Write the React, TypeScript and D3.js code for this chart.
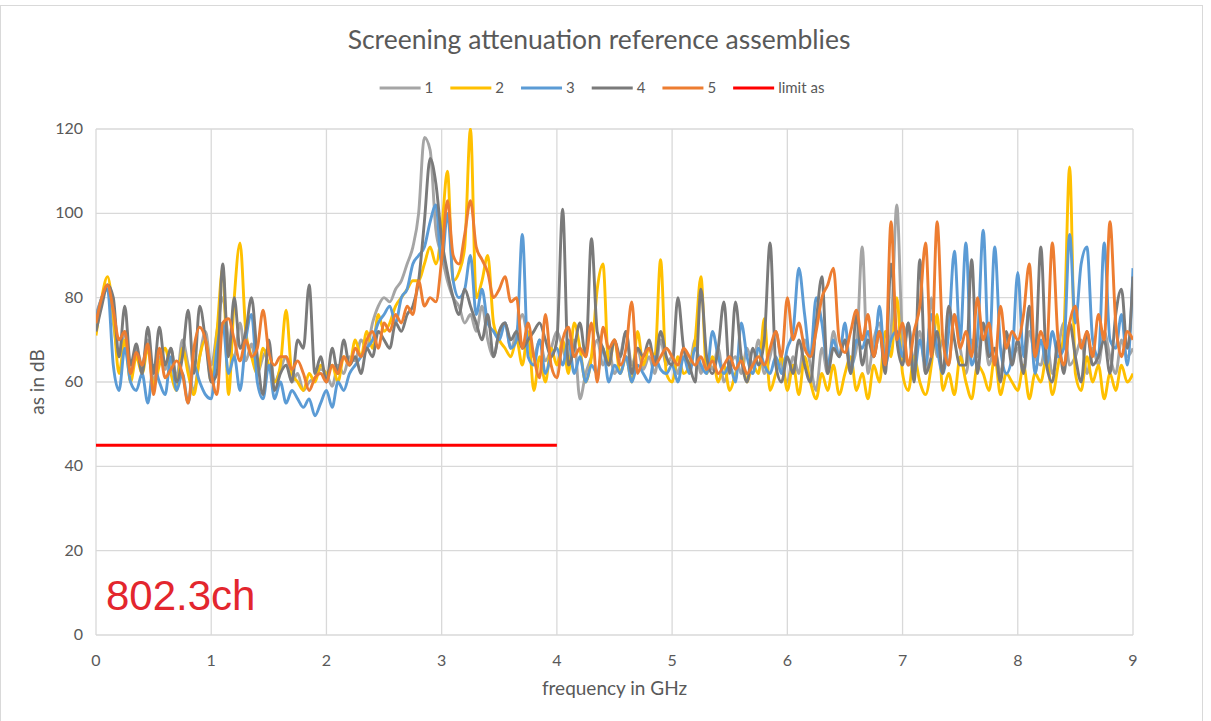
import React, { useEffect, useRef } from 'react';
import * as d3 from 'd3';

// frequency sampling of the measured traces (GHz)
const freqStep = 0.05;

// series 1 .. 5, one row per GHz (20 points), last value at 9 GHz
const series1 = [
  76, 80, 83, 74, 66, 72, 62, 68, 64, 70, 60, 66, 63, 68, 61, 70, 64, 58, 66, 72,
  64, 72, 80, 70, 66, 74, 65, 69, 62, 66, 68, 60, 63, 66, 60, 62, 58, 60, 61, 63,
  62, 59, 64, 62, 66, 65, 70, 68, 74, 78, 80, 79, 82, 84, 88, 92, 100, 118, 115, 96,
  90, 84, 80, 78, 74, 76, 72, 78, 70, 66, 72, 74, 68, 72, 76, 70, 66, 70, 65, 68,
  72, 68, 64, 70, 56, 62, 66, 70, 64, 68, 62, 66, 72, 64, 68, 63, 66, 62, 70, 64,
  66, 62, 68, 64, 70, 62, 66, 63, 68, 60, 64, 66, 62, 68, 64, 70, 62, 66, 72, 64,
  60, 66, 62, 70, 64, 58, 68, 62, 72, 66, 70, 64, 68, 92, 62, 70, 74, 66, 72, 102,
  70, 64, 66, 72, 62, 80, 66, 70, 64, 76, 68, 62, 70, 66, 74, 64, 68, 62, 70, 66,
  68, 62, 72, 66, 64, 70, 62, 68, 74, 64, 66, 70, 62, 68, 64, 72, 66, 62, 70, 66,
  68,
];
const series2 = [
  71, 80, 85, 76, 62, 70, 60, 66, 62, 68, 59, 64, 68, 62, 58, 68, 62, 57, 66, 70,
  60, 72, 87, 57, 80, 93, 72, 66, 62, 68, 64, 60, 64, 77, 62, 60, 58, 62, 60, 64,
  62, 64, 60, 66, 64, 70, 66, 72, 68, 76, 72, 74, 78, 80, 82, 84, 84, 88, 92, 88,
  96, 110, 84, 86, 92, 120, 80, 84, 90, 74, 70, 68, 66, 70, 64, 72, 58, 66, 60, 68,
  64, 70, 62, 74, 68, 60, 66, 82, 88, 64, 70, 62, 66, 60, 72, 64, 68, 66, 89, 62,
  60, 66, 62, 64, 70, 85, 62, 66, 60, 64, 58, 62, 66, 60, 64, 62, 75, 58, 62, 66,
  58, 64, 57, 66, 60, 56, 62, 58, 64, 57, 62, 66, 58, 62, 56, 64, 60, 72, 66, 80,
  62, 58, 66, 60, 57, 64, 76, 58, 62, 57, 66, 60, 56, 64, 62, 58, 66, 57, 62, 60,
  58, 64, 56, 62, 60, 66, 57, 64, 72, 111, 62, 58, 66, 60, 64, 56, 62, 58, 64, 60,
  62,
];
const series3 = [
  75, 80, 82, 64, 58, 68, 60, 58, 62, 55, 64, 60, 57, 66, 58, 62, 55, 64, 60, 57,
  56, 68, 74, 62, 66, 58, 70, 76, 60, 56, 64, 56, 60, 55, 58, 56, 54, 56, 52, 55,
  58, 54, 60, 58, 62, 64, 66, 68, 70, 74, 76, 78, 74, 80, 82, 88, 90, 92, 98, 102,
  88, 100, 84, 80, 82, 90, 76, 82, 74, 72, 70, 74, 68, 70, 95, 66, 64, 70, 62, 66,
  68, 64, 70, 62, 66, 60, 64, 62, 68, 60, 64, 62, 66, 60, 64, 62, 60, 66, 63, 62,
  64, 60, 66, 62, 68, 64, 62, 72, 66, 62, 64, 60, 74, 66, 62, 68, 64, 62, 66, 62,
  68, 72, 87, 76, 66, 80, 74, 64, 70, 66, 74, 62, 70, 68, 72, 66, 78, 64, 70, 72,
  66, 74, 62, 70, 64, 76, 68, 62, 72, 91, 70, 93, 64, 70, 96, 66, 92, 68, 62, 66,
  86, 66, 78, 62, 70, 64, 72, 66, 68, 95, 74, 88, 92, 70, 66, 93, 70, 68, 76, 64,
  87,
];
const series4 = [
  72, 78, 83, 80, 66, 78, 64, 69, 62, 73, 62, 73, 64, 68, 60, 66, 77, 62, 78, 70,
  60, 62, 88, 66, 80, 68, 72, 80, 66, 57, 70, 58, 62, 64, 60, 70, 68, 83, 62, 66,
  60, 68, 62, 70, 64, 66, 62, 68, 66, 72, 70, 68, 74, 72, 76, 78, 84, 98, 113, 107,
  94, 86, 80, 76, 82, 78, 74, 70, 76, 66, 72, 74, 70, 72, 68, 70, 72, 74, 70, 66,
  70, 101, 64, 68, 74, 66, 94, 72, 68, 64, 70, 66, 72, 62, 68, 66, 70, 64, 72, 66,
  64, 80, 68, 64, 60, 82, 66, 62, 68, 79, 62, 79, 66, 60, 68, 64, 70, 93, 64, 60,
  66, 62, 70, 64, 60, 74, 85, 62, 68, 66, 70, 62, 76, 64, 70, 66, 72, 62, 88, 70,
  64, 74, 60, 89, 62, 66, 72, 62, 78, 70, 64, 64, 89, 62, 74, 66, 68, 60, 72, 64,
  70, 62, 78, 66, 92, 64, 60, 70, 62, 74, 66, 60, 72, 64, 66, 70, 62, 76, 82, 68,
  85,
];
const series5 = [
  74, 80, 83, 77, 70, 72, 62, 67, 64, 69, 57, 68, 61, 63, 65, 62, 55, 68, 73, 70,
  62, 57, 74, 75, 70, 65, 70, 66, 68, 77, 67, 64, 66, 66, 63, 65, 62, 58, 61, 62,
  60, 64, 62, 66, 64, 68, 66, 70, 72, 68, 74, 72, 76, 74, 78, 76, 84, 78, 80, 79,
  89, 103, 90, 88, 95, 103, 92, 89, 86, 80, 82, 85, 79, 80, 68, 74, 66, 61, 76, 64,
  61, 70, 73, 66, 68, 66, 74, 60, 73, 68, 70, 64, 68, 79, 62, 66, 68, 64, 66, 68,
  66, 64, 68, 66, 64, 66, 63, 65, 62, 64, 66, 63, 65, 62, 64, 66, 64, 68, 72, 66,
  80, 70, 74, 68, 66, 72, 80, 83, 87, 70, 67, 72, 77, 70, 76, 66, 72, 64, 98, 70,
  74, 64, 72, 78, 93, 66, 98, 70, 64, 76, 68, 72, 66, 80, 70, 74, 64, 78, 68, 72,
  70, 76, 88, 66, 72, 68, 93, 70, 64, 74, 78, 68, 72, 66, 76, 70, 98, 74, 66, 72,
  70,
];

const seriesNames = ['1', '2', '3', '4', '5'];
const seriesColors = ['#a5a5a5', '#ffc000', '#5b9bd5', '#7a7a7a', '#ed7d31'];

const limitFreq = [0, 4];
const limitValue = [45, 45];
const limitName = 'limit as';
const limitColor = '#ff0000';

const xTicks = [0, 1, 2, 3, 4, 5, 6, 7, 8, 9];
const yTicks = [0, 20, 40, 60, 80, 100, 120];

const W = 1211;
const H = 721;
const font = 'Lato, "Open Sans", sans-serif';
const textGray = '#595959';

export default function App() {
  const ref = useRef<SVGSVGElement>(null);

  useEffect(() => {
    document.body.style.margin = '0';
    const svg = d3.select(ref.current);
    svg.selectAll('*').remove();

    const margin = { top: 129, right: 78, bottom: 86, left: 96 };
    const x = d3.scaleLinear().domain([0, 9]).range([margin.left, W - margin.right]);
    const y = d3.scaleLinear().domain([0, 120]).range([H - margin.bottom, margin.top]);

    // chart frame
    svg.append('rect')
      .attr('x', 0.5).attr('y', 5.5)
      .attr('width', 1202).attr('height', H)
      .attr('fill', '#fff').attr('stroke', '#d9d9d9');

    // grid
    const grid = svg.append('g').attr('stroke', '#d9d9d9').attr('stroke-width', 1.3);
    grid.selectAll('line.v').data(xTicks).enter().append('line')
      .attr('x1', d => x(d)).attr('x2', d => x(d))
      .attr('y1', y(0)).attr('y2', y(120));
    grid.selectAll('line.h').data(yTicks).enter().append('line')
      .attr('x1', x(0)).attr('x2', x(9))
      .attr('y1', d => y(d)).attr('y2', d => y(d));

    // tick labels
    svg.append('g').selectAll('text').data(yTicks).enter().append('text')
      .attr('x', 83).attr('y', d => y(d) + 5)
      .attr('text-anchor', 'end')
      .attr('font-family', font).attr('font-size', 16).attr('fill', textGray)
      .text(d => d);
    svg.append('g').selectAll('text').data(xTicks).enter().append('text')
      .attr('x', d => x(d)).attr('y', 666)
      .attr('text-anchor', 'middle')
      .attr('font-family', font).attr('font-size', 16).attr('fill', textGray)
      .text(d => d);

    // axis titles
    svg.append('text')
      .attr('transform', `translate(44,${(y(0) + y(120)) / 2}) rotate(-90)`)
      .attr('text-anchor', 'middle')
      .attr('font-family', font).attr('font-size', 19).attr('fill', textGray)
      .text('as in dB');
    svg.append('text')
      .attr('x', (x(0) + x(9)) / 2).attr('y', 695)
      .attr('text-anchor', 'middle')
      .attr('font-family', font).attr('font-size', 19).attr('fill', textGray)
      .text('frequency in GHz');

    // title
    svg.append('text')
      .attr('x', 599).attr('y', 49)
      .attr('text-anchor', 'middle')
      .attr('font-family', font).attr('font-size', 26.5).attr('fill', textGray)
      .text('Screening attenuation reference assemblies');

    // data lines
    svg.append('clipPath').attr('id', 'plot-clip')
      .append('rect')
      .attr('x', x(0)).attr('y', y(120) - 1)
      .attr('width', x(9) - x(0)).attr('height', y(0) - y(120) + 1);

    const allSeries = [series1, series2, series3, series4, series5];
    const line = d3.line<number>()
      .x((_, i) => x(i * freqStep))
      .y(d => y(d))
      .curve(d3.curveMonotoneX);

    const lines = svg.append('g').attr('clip-path', 'url(#plot-clip)');
    allSeries.forEach((s, k) => {
      lines.append('path')
        .attr('d', line(s))
        .attr('fill', 'none')
        .attr('stroke', seriesColors[k])
        .attr('stroke-width', 2.9)
        .attr('stroke-linejoin', 'round');
    });

    const limitLine = d3.line<number>()
      .x((_, i) => x(limitFreq[i]))
      .y(d => y(d));
    lines.append('path')
      .attr('d', limitLine(limitValue))
      .attr('fill', 'none')
      .attr('stroke', limitColor)
      .attr('stroke-width', 2.9);

    // annotation
    svg.append('text')
      .attr('x', 106).attr('y', 610)
      .attr('font-family', '"Liberation Sans", Arial, sans-serif')
      .attr('font-size', 42).attr('fill', '#e3262e')
      .text('802.3ch');

    // legend, laid out from measured label widths
    const legendItems = seriesNames.map((n, i) => ({ name: n, color: seriesColors[i] }))
      .concat([{ name: limitName, color: limitColor }]);
    const legend = svg.append('g');
    let cx = 0;
    legendItems.forEach(item => {
      legend.append('line')
        .attr('x1', cx).attr('x2', cx + 41)
        .attr('y1', 88).attr('y2', 88)
        .attr('stroke', item.color).attr('stroke-width', 2.9);
      const t = legend.append('text')
        .attr('x', cx + 45).attr('y', 93)
        .attr('font-family', font).attr('font-size', 15).attr('fill', textGray)
        .text(item.name);
      const w = (t.node() as SVGTextElement).getComputedTextLength();
      cx += 45 + w + 17;
    });
    const legendWidth = cx - 17;
    legend.attr('transform', `translate(${602 - legendWidth / 2},0)`);
  }, []);

  return (
    <svg
      ref={ref}
      width={W}
      height={H}
      style={{ position: 'absolute', left: 0, top: 0, display: 'block' }}
    />
  );
}
